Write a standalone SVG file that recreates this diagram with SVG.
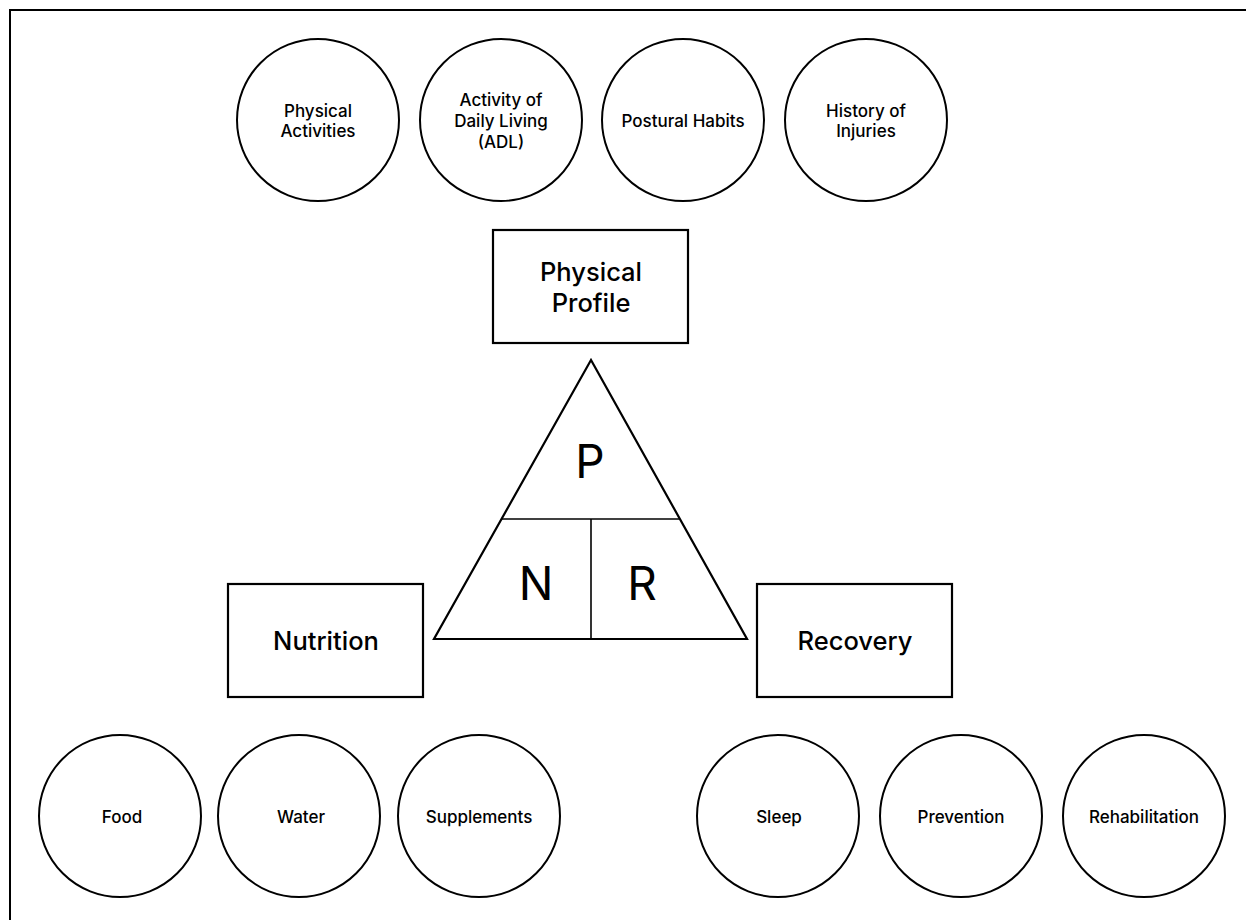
<svg xmlns="http://www.w3.org/2000/svg" width="1246" height="920" viewBox="0 0 1246 920">
<style>
.c{fill:#fff;stroke:#000;stroke-width:2}
.b{fill:#fff;stroke:#000;stroke-width:2.2}
.t{font-family:Inter,"Liberation Sans",sans-serif;font-weight:500;font-size:17px;text-anchor:middle;fill:#000}
.bt{font-family:Inter,"Liberation Sans",sans-serif;font-weight:500;font-size:25.5px;text-anchor:middle;fill:#000}
.lt{font-family:Inter,"Liberation Sans",sans-serif;font-weight:400;font-size:46px;text-anchor:middle;fill:#000}
</style>
<rect x="0" y="0" width="1246" height="920" fill="#fff"/>
<rect x="10" y="10" width="1250" height="930" fill="none" stroke="#000" stroke-width="2"/>
<g id="physical-activities"><circle class="c" cx="318" cy="120" r="81"/><text class="t" x="318" y="117">Physical</text><text class="t" x="318" y="137">Activities</text></g>
<g id="adl"><circle class="c" cx="501" cy="120" r="81"/><text class="t" x="501" y="106">Activity of</text><text class="t" x="501" y="127">Daily Living</text><text class="t" x="501" y="148">(ADL)</text></g>
<g id="postural-habits"><circle class="c" cx="683" cy="120" r="81"/><text class="t" x="683" y="127">Postural Habits</text></g>
<g id="history-of-injuries"><circle class="c" cx="866" cy="120" r="81"/><text class="t" x="866" y="117">History of</text><text class="t" x="866" y="137">Injuries</text></g>
<g id="physical-profile"><rect class="b" x="493" y="230" width="195" height="113"/><text class="bt" x="591" y="281">Physical</text><text class="bt" x="591" y="312">Profile</text></g>
<g id="pnr-triangle">
<polygon points="591,360 434,639 747,639" fill="#fff" stroke="#000" stroke-width="2.2" stroke-linejoin="miter"/>
<line x1="502" y1="519" x2="679" y2="519" stroke="#000" stroke-width="1.6"/>
<line x1="591" y1="519" x2="591" y2="639" stroke="#000" stroke-width="1.6"/>
<text class="lt" x="590" y="478">P</text>
<text class="lt" x="536" y="600">N</text>
<text class="lt" x="642" y="600">R</text>
</g>
<g id="nutrition"><rect class="b" x="228" y="584" width="195" height="113"/><text class="bt" x="326" y="650">Nutrition</text></g>
<g id="recovery"><rect class="b" x="757" y="584" width="195" height="113"/><text class="bt" x="855" y="650">Recovery</text></g>
<g id="food"><circle class="c" cx="120" cy="816" r="81"/><text class="t" x="122" y="823">Food</text></g>
<g id="water"><circle class="c" cx="299" cy="816" r="81"/><text class="t" x="301" y="823">Water</text></g>
<g id="supplements"><circle class="c" cx="479" cy="816" r="81"/><text class="t" x="479" y="823">Supplements</text></g>
<g id="sleep"><circle class="c" cx="778" cy="816" r="81"/><text class="t" x="779" y="823">Sleep</text></g>
<g id="prevention"><circle class="c" cx="961" cy="816" r="81"/><text class="t" x="961" y="823">Prevention</text></g>
<g id="rehabilitation"><circle class="c" cx="1144" cy="816" r="81"/><text class="t" x="1144" y="823">Rehabilitation</text></g>
<g id="connectors"></g>
</svg>
